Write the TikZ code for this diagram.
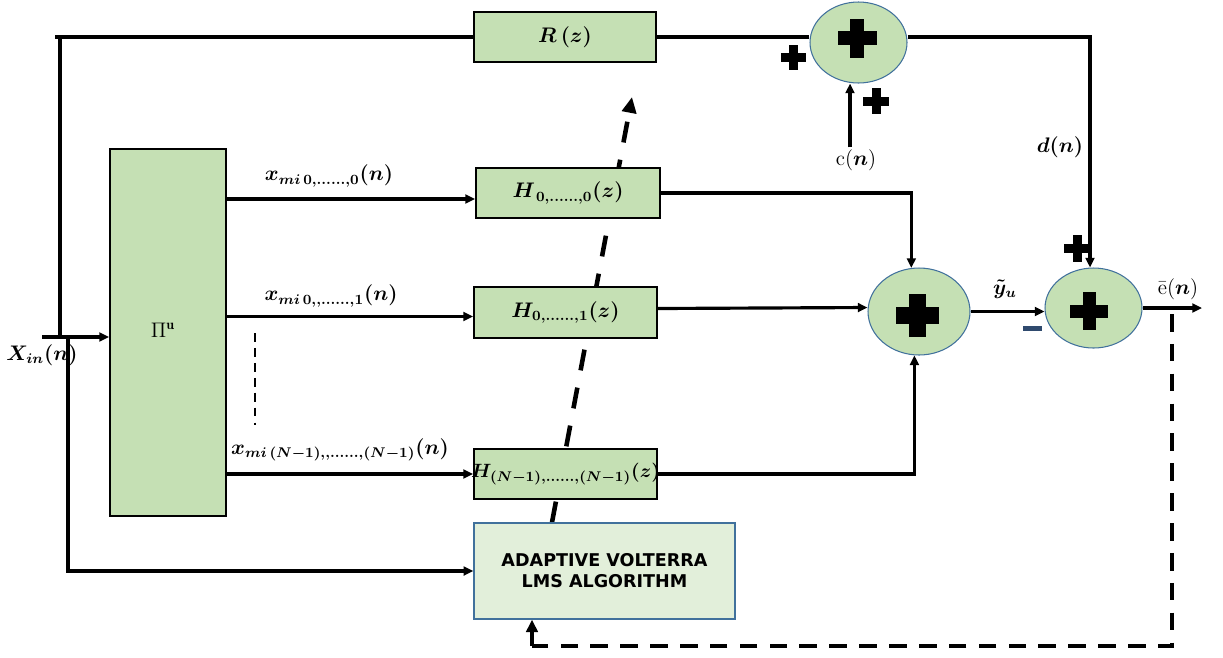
\documentclass[tikz,border=0pt]{standalone}
\usepackage{fontspec}
\usepackage{amsmath,bm}
\usetikzlibrary{arrows.meta,shapes.geometric,backgrounds}
\newfontfamily\boxfont{DejaVu Sans}
\definecolor{blockgreen}{HTML}{C5E0B4}
\definecolor{lightgreen}{HTML}{E2EFDA}
\definecolor{edgeblue}{HTML}{41719C}
\definecolor{minusblue}{HTML}{2F4A6E}
% filled plus sign: centre x, centre y, half length, half thickness
\newcommand{\drawplus}[4]{%
  \fill (#1-#3,#2-#4) rectangle (#1+#3,#2+#4);
  \fill (#1-#4,#2-#3) rectangle (#1+#4,#2+#3);}
\begin{document}
\begin{tikzpicture}[x=0.02cm,y=-0.02cm,
  >={Triangle[length=5.5pt,width=5pt]},
  wire/.style={line width=1.8pt},
  block/.style={draw=black,line width=1.1pt,fill=blockgreen,inner sep=0pt},
  sumnode/.style={ellipse,draw=edgeblue,line width=0.6pt,fill=blockgreen,inner sep=0pt},
  lbl/.style={font=\fontsize{12}{14}\selectfont\boldmath,inner sep=1pt},
  smalllbl/.style={font=\fontsize{11}{13}\selectfont\boldmath,inner sep=1pt},
  plainlbl/.style={font=\fontsize{12}{14}\selectfont,inner sep=1pt},
  diagdash/.style={line width=2.6pt,dash pattern=on 12pt off 10pt,
    >={Triangle[length=9pt,width=8pt]}},
  fbdash/.style={line width=2.3pt,dash pattern=on 10pt off 7pt},
  fbtip/.style={line width=2.3pt,>={Triangle[length=7pt,width=6.5pt]}},
  dotdash/.style={line width=1.6pt,dash pattern=on 5pt off 3.5pt}]
\useasboundingbox (0,0) rectangle (1223,657);

% blocks
\node[block,minimum width=3.64cm,minimum height=1.0cm] (R) at (565,37) {};
\node[block,minimum width=3.68cm,minimum height=1.0cm] (H0) at (568,193) {};
\node[block,minimum width=3.66cm,minimum height=1.02cm] (H1) at (565.5,312.5) {};
\node[block,minimum width=3.66cm,minimum height=1.0cm] (HN) at (565.5,474) {};
\node[block,minimum width=2.32cm,minimum height=7.34cm] (Pi) at (168,332.5) {};
\node[draw=edgeblue,line width=0.8pt,fill=lightgreen,minimum width=5.22cm,
  minimum height=1.92cm,align=center,inner sep=0pt,
  font=\boxfont\bfseries\fontsize{10}{12}\selectfont] (AD) at (604.5,571)
  {ADAPTIVE VOLTERRA\\LMS ALGORITHM};

% summing junctions
\node[sumnode,minimum width=1.94cm,minimum height=1.62cm] (S1) at (858.5,42.5) {};
\node[sumnode,minimum width=2.04cm,minimum height=1.74cm] (S2) at (919,311.5) {};
\node[sumnode,minimum width=1.94cm,minimum height=1.6cm] (S3) at (1093.5,308) {};

% adaptation path behind the filter blocks
\coordinate (rtip) at (632,97);
\begin{pgfonlayer}{background}
  \draw[diagdash,->] ([xshift=-1.05cm]AD.north) -- (rtip);
\end{pgfonlayer}

% block texts
\node[lbl] at (R) {$R\,(z)$};
\node[lbl] at (H0) {$H_{\,0,\ldots\ldots,0}(z)$};
\node[lbl] at (H1) {$H_{0,\ldots\ldots,1}(z)$};
\node[smalllbl] at (HN) {$H_{(N-1),\ldots\ldots,(N-1)}(z)$};
\node[plainlbl] at (163,330) {$\Pi^{\mathbf{u}}$};

% plus and minus marks
\drawplus{857}{38}{19.5}{7}
\drawplus{917}{315}{21.5}{8.5}
\drawplus{1089}{311}{19}{6.5}
\drawplus{793}{57}{12.5}{4.5}
\drawplus{876}{101}{13}{4.5}
\drawplus{1077}{248}{13.5}{4.5}
\fill[minusblue] (1023,325.5) rectangle (1042,331);

% input and bypass
\coordinate (xin) at (42,337);
\coordinate (tj) at (60,337);
\coordinate (bj) at (68,337);
\coordinate (tl) at (55,37);
\draw[wire,->] (xin) -- (xin -| Pi.west);
\draw[wire] (tl) -- (R.west);
\draw[wire] (tl -| tj) -- (tj);
\draw[wire,->] (bj) |- (AD.west);
\node[lbl] (xinl) at (42,355) {$X_{in}(n)$};

% branch signals
\draw[wire,->] ([yshift=-0.12cm]Pi.east |- H0.west) -- ([yshift=-0.12cm]H0.west);
\draw[wire,->] ([yshift=-0.08cm]Pi.east |- H1.west) -- ([yshift=-0.08cm]H1.west);
\draw[wire,->] (Pi.east |- HN.west) -- (HN.west);
\node[lbl] (x0) at (329,176) {$x_{mi\,0,\ldots\ldots,0}(n)$};
\node[lbl] (x1) at (331,296) {$x_{mi\,0,,\ldots\ldots,1}(n)$};
\node[lbl] (xN) at (340,450) {$x_{mi\,(N-1),,\ldots\ldots,(N-1)}(n)$};
\coordinate (dtop) at (255,333);
\coordinate (dbot) at (255,425);
\draw[dotdash] (dtop) -- (dbot);

% filter outputs to the first adder
\draw[wire,->] (H0.east) -| (S2.100);
\draw[wire,->] ([yshift=0.08cm]H1.east) -- ([yshift=0.08cm]S2.west);
\draw[wire,->] (HN.east) -| (S2.264);

% reference path
\draw[wire] (R.east) -- (R.east -| S1.west);
\draw[wire,->] (R.east -| S1.east) -| ([xshift=-0.07cm]S3.north);
\node[plainlbl] (cn) at (856,160) {c$(\bm{n})$};
\draw[wire,->] ([xshift=-0.12cm]cn.north) -- ([xshift=-0.12cm]cn.north |- S1.south);
\node[lbl] (dn) at (1060,147) {$d(n)$};

% error computation
\draw[wire,->] (S2.east) -- (S2.east -| S3.west);
\node[lbl] (yu) at (1005,289) {$\tilde{y}_u$};
\coordinate (eout) at (1202,308);
\draw[wire,->] (S3.east) -- (eout);
\node[plainlbl] (en) at (1178,289) {ē$(\bm{n})$};

% error feedback to the adaptive algorithm
\coordinate (fbtop) at (1172,314);
\coordinate (fbcorner) at (532,646);
\draw[fbdash] (fbtop) |- (fbcorner);
\draw[fbtip,->] (fbcorner) -- (fbcorner |- AD.south);
\end{tikzpicture}
\end{document}
